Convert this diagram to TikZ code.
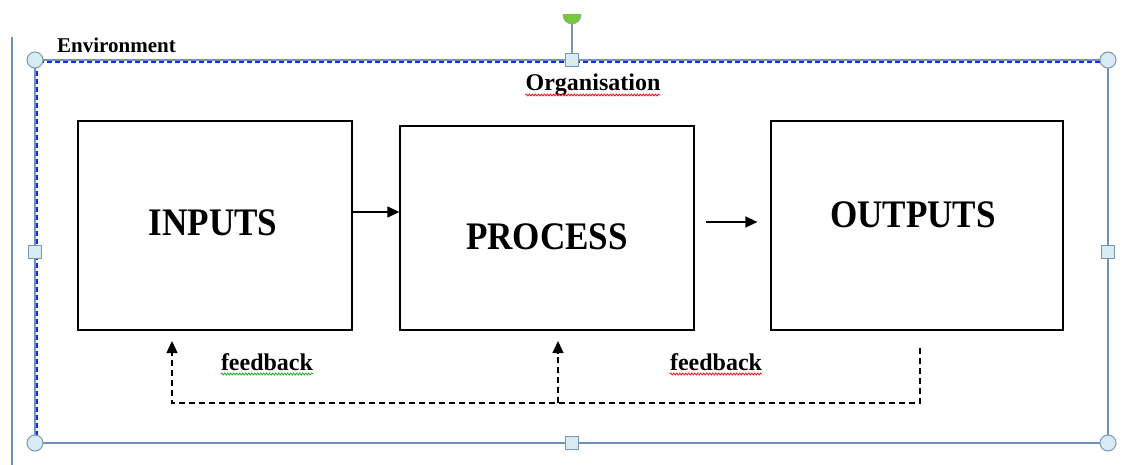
\documentclass[tikz,border=0pt]{standalone}
\usepackage{fontspec}
\setmainfont{Liberation Serif}
\newfontfamily\bigfont[FakeStretch=0.9]{Liberation Serif}
\usepackage{tikz}
\usetikzlibrary{arrows.meta}
\usetikzlibrary{calc}
\usetikzlibrary{decorations.pathmorphing}
\definecolor{framecol}{RGB}{110,145,190}
\definecolor{selblue}{RGB}{20,40,230}
\definecolor{handlefill}{RGB}{215,236,242}
\definecolor{handledraw}{RGB}{125,150,175}
\definecolor{rotgreen}{RGB}{120,200,60}
\definecolor{spellred}{RGB}{230,30,30}
\definecolor{spellgreen}{RGB}{40,170,40}
\tikzset{blockbox/.style={draw, line width=1.3pt, minimum width=#1, inner sep=0pt}}
\tikzset{bigtext/.style={font=\bigfont\bfseries\fontsize{39}{39}\selectfont, inner sep=0pt}}
\tikzset{smalltext/.style={font=\bfseries\fontsize{24}{24}\selectfont, inner sep=0pt}}
\tikzset{roundhandle/.style={circle, draw=handledraw, fill=handlefill, line width=1pt, minimum size=16pt, inner sep=0pt}}
\tikzset{squarehandle/.style={rectangle, draw=handledraw, fill=handlefill, line width=1pt, minimum size=13pt, inner sep=0pt}}
\tikzset{spelling/.style={draw=#1, line width=0.9pt, decorate, decoration={snake, amplitude=0.9pt, segment length=3pt}}}
\tikzset{flowarrow/.style={line width=1.4pt, -{Triangle[length=12pt, width=11pt]}}}

\begin{document}
\begin{tikzpicture}[x=1pt, y=-1pt]
\useasboundingbox (0,0) rectangle (1145,465);
% selection frame
\draw[framecol, line width=1.2pt] (12,37) -- (12,465);
\draw[framecol, line width=1.3pt] (35,60) rectangle (1108,443);
\draw[selblue, line width=1.2pt, dash pattern=on 5pt off 3pt] (1108,62) -- (37,62) -- (37,443);
\draw[handledraw, line width=1.3pt] (572,22) -- (572,55);
\begin{scope}
\clip (560,15) rectangle (584,30);
\node[circle, fill=rotgreen, draw=handledraw, minimum size=18pt, inner sep=0pt] (rot) at (572,15) {};
\end{scope}
\foreach \hx/\hy in {35/60, 1108/60, 35/443, 1108/443}
  \node[roundhandle] at (\hx,\hy) {};
\foreach \hx/\hy in {572/60, 572/443, 35/252, 1108/252}
  \node[squarehandle] at (\hx,\hy) {};
% titles
\node[smalltext, font=\bfseries\fontsize{21}{21}\selectfont, anchor=base west] (env) at (57,53) {Environment};
\node[smalltext, anchor=base] (org) at (593,91) {Organisation};
% blocks
\node[blockbox=274pt, minimum height=209pt] (inp) at (215,225.5) {};
\node[blockbox=294pt, minimum height=204pt] (proc) at (547,228) {};
\node[blockbox=292pt, minimum height=209pt] (out) at (917,225.5) {};
\node[bigtext, anchor=base] (inptxt) at (213,235) {INPUTS};
\node[bigtext, anchor=base] (proctxt) at (547,249) {PROCESS};
\node[bigtext, anchor=base] (outtxt) at (913,227) {OUTPUTS};
% arrows
\draw[flowarrow] (inp.east |- 0,212) -- (proc.west |- 0,212);
\draw[flowarrow, shorten <=11pt, shorten >=13pt] (proc.east |- 0,222) -- (out.west |- 0,222);
% feedback loop
\coordinate (fbstart) at (920,348);
\coordinate (fbcorner) at (920,403);
\coordinate (fbleft) at (172,403);
\coordinate (fbmid) at (558,403);
\draw[flowarrow, line width=1.3pt, dash pattern=on 6pt off 4pt] (fbstart) -- (fbcorner) -- (fbleft) -- (172,341);
\draw[flowarrow, line width=1.3pt, dash pattern=on 6pt off 4pt] (fbmid) -- (558,341);
\node[smalltext, anchor=base] (fb1) at (267,370) {feedback};
\node[smalltext, anchor=base] (fb2) at (716,370) {feedback};
% spelling marks
\draw[spelling=spellred] ($(org.base west)+(0,4)$) -- ($(org.base east)+(0,4)$);
\draw[spelling=spellgreen] ($(fb1.base west)+(0,4)$) -- ($(fb1.base east)+(0,4)$);
\draw[spelling=spellred] ($(fb2.base west)+(0,4)$) -- ($(fb2.base east)+(0,4)$);
\end{tikzpicture}
\end{document}
